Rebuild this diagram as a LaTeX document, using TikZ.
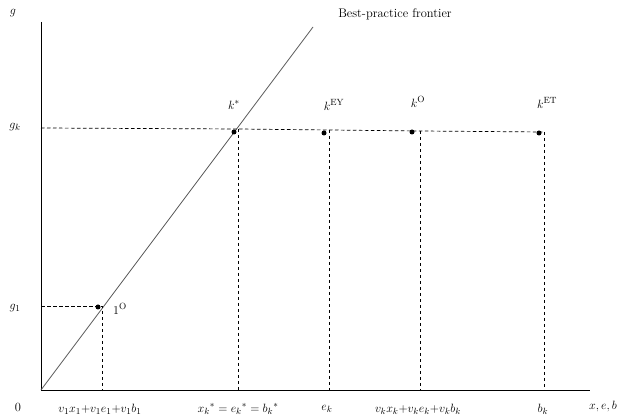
\documentclass[tikz,border=0pt]{standalone}
\usepackage{amsmath,amssymb}
\usepackage{tikz}
\usetikzlibrary{calc,positioning}

\begin{document}
\begin{tikzpicture}[x=100pt, y=100pt,
		font=\fontsize{12.5}{15}\selectfont,
		axis/.style={line width=0.9pt},
		frontier/.style={draw=black!65, line width=0.8pt},
		guide/.style={dashed, line width=0.7pt, dash pattern=on 3.5pt off 2.5pt},
		pt/.style={circle, fill=black, inner sep=0pt, minimum size=5pt}]
				\useasboundingbox (-0.41,-0.29) rectangle (5.79,3.90);
				% axes
				\coordinate (o) at (0,0);
				\coordinate (ytop) at (0,3.68);
				\coordinate (xend) at (5.49,0);
				\draw[axis] (ytop) -- (o) -- (xend);
				\coordinate (fend) at (2.72,3.63);
				\draw[frontier] (o) -- (fend);
				
				% points on the frontier and beyond
				\node[pt] (p1) at (0.57,0.83) {};
				\node[pt] (ks)  at (1.93,2.58) {};
				\node[pt] (kEY) at (2.83,2.57) {};
				\node[pt] (kO)  at (3.71,2.58) {};
				\node[pt] (kET) at (4.98,2.57) {};
				
				% levels g_1 and g_k
				\coordinate (g1) at (0,0.84);
				\coordinate (gk) at (0,2.62);
				\coordinate (t1) at (0.61,0.84);
				\coordinate (ts)  at (1.97,2.61);
				\coordinate (tEY) at (2.88,2.60);
				\coordinate (tO)  at (3.79,2.59);
				\coordinate (tET) at (5.03,2.58);
				\coordinate (b1) at (0.61,0);
				\coordinate (bs)  at (1.97,0);
				\coordinate (bEY) at (2.88,0);
				\coordinate (bO)  at (3.79,0);
				\coordinate (bET) at (5.03,0);
				\draw[guide] (g1) -- (t1) -- (b1);
				\draw[guide] (gk) -- (ts) -- (tEY) -- (tO) -- (tET);
				\draw[guide] (ts) -- (bs);
				\draw[guide] (tEY) -- (bEY);
				\draw[guide] (tO) -- (bO);
				\draw[guide] (tET) -- (bET);
				
				% labels
				\node (lbl-front) at (3.54,3.76) {Best-practice frontier};
				\node (lbl-g)  at (-0.28,3.77) {\(g\)};
				\node (lbl-gk) at (-0.26,2.63) {\(g_k\)};
				\node (lbl-g1) at (-0.26,0.82) {\(g_1\)};
				\node (lbl-0)  at (-0.23,-0.17) {0};
				\node (lbl-1O) at (0.79,0.81) {\(1^{\mathrm{O}}\)};
				\node (lbl-ks)  at (1.93,2.85) {\(k^{*}\)};
				\node (lbl-kEY) at (2.93,2.85) {\(k^{\mathrm{EY}}\)};
				\node (lbl-kO)  at (3.77,2.88) {\(k^{\mathrm{O}}\)};
				\node (lbl-kET) at (5.06,2.87) {\(k^{\mathrm{ET}}\)};
				\node (lbl-x1) at (0.59,-0.19) {\(v_1x_1{+}v_1e_1{+}v_1b_1\)};
				\node (lbl-xs) at (1.97,-0.19) {\(x_k{}^{*}=e_k{}^{*}=b_k{}^{*}\)};
				\node (lbl-ek) at (2.86,-0.19) {\(e_k\)};
				\node (lbl-xk) at (3.77,-0.19) {\(v_kx_k{+}v_ke_k{+}v_kb_k\)};
				\node (lbl-bk) at (5.02,-0.19) {\(b_k\)};
				\node (lbl-xeb) at (5.62,-0.17) {\(x,e,b\)};
			\end{tikzpicture}
\end{document}
